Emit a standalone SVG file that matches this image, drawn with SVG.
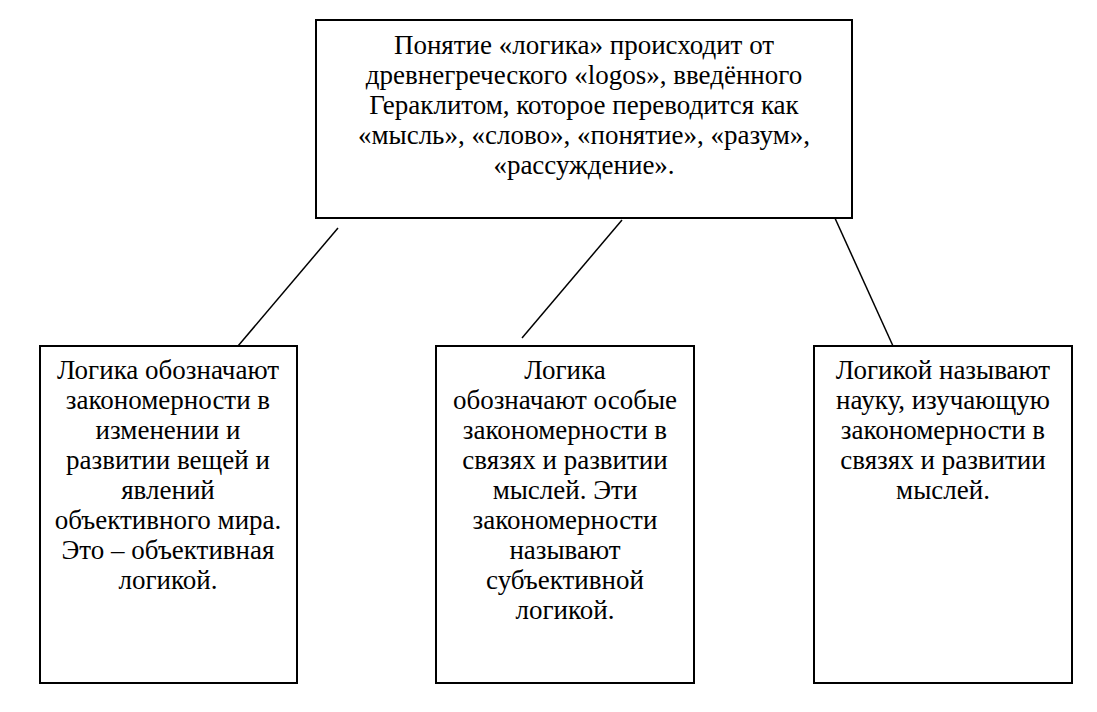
<svg xmlns="http://www.w3.org/2000/svg" width="1097" height="712" viewBox="0 0 1097 712">
<style>
rect{fill:#fff;stroke:#000;stroke-width:2}
line{stroke:#000;stroke-width:1.5}
text{font-family:"Liberation Serif",serif;font-size:27px;text-anchor:middle;fill:#000}
</style>
<rect x="0" y="0" width="1097" height="712" style="stroke:none"/>
<g id="connectors">
<line x1="338" y1="228" x2="238" y2="346"/>
<line x1="622" y1="220" x2="522" y2="338"/>
<line x1="834" y1="216" x2="893" y2="346"/>
</g>
<g id="top">
<rect x="316" y="20" width="536" height="198"/>
<text x="584" y="54">Понятие  «логика» происходит от</text>
<text x="584" y="84">древнегреческого «logos», введённого</text>
<text x="584" y="114">Гераклитом, которое переводится как</text>
<text x="584" y="144">«мысль», «слово», «понятие», «разум»,</text>
<text x="584" y="174">«рассуждение».</text>
</g>
<g id="left">
<rect x="40" y="346" width="257" height="337"/>
<text x="168" y="379">Логика обозначают</text>
<text x="168" y="409">закономерности в</text>
<text x="168" y="439">изменении и</text>
<text x="168" y="469">развитии вещей и</text>
<text x="168" y="499">явлений</text>
<text x="168" y="529">объективного мира.</text>
<text x="168" y="559">Это – объективная</text>
<text x="168" y="589">логикой.</text>
</g>
<g id="middle">
<rect x="436" y="346" width="258" height="337"/>
<text x="565" y="379">Логика</text>
<text x="565" y="409">обозначают особые</text>
<text x="565" y="439">закономерности в</text>
<text x="565" y="469">связях и развитии</text>
<text x="565" y="499">мыслей. Эти</text>
<text x="565" y="529">закономерности</text>
<text x="565" y="559">называют</text>
<text x="565" y="589">субъективной</text>
<text x="565" y="619">логикой.</text>
</g>
<g id="right">
<rect x="814" y="346" width="258" height="337"/>
<text x="943" y="379">Логикой называют</text>
<text x="943" y="409">науку, изучающую</text>
<text x="943" y="439">закономерности в</text>
<text x="943" y="469">связях и развитии</text>
<text x="943" y="499">мыслей.</text>
</g>
</svg>
